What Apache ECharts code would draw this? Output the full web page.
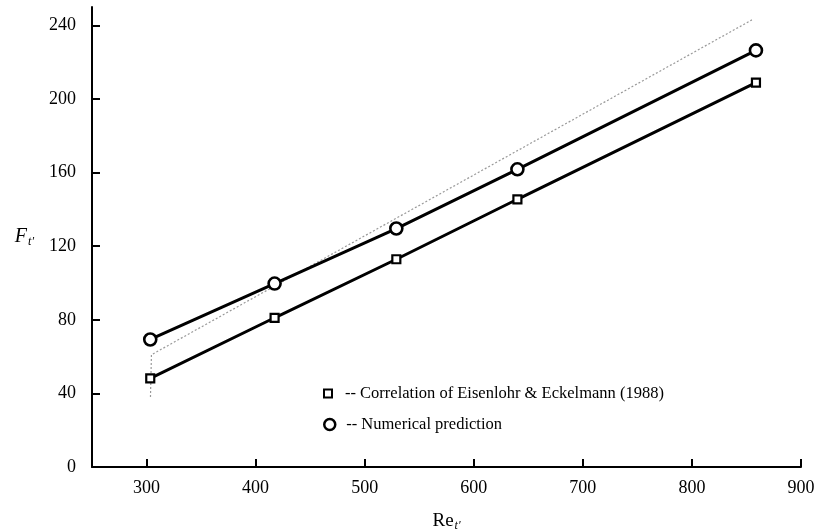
<!DOCTYPE html>
<html>
<head>
<meta charset="utf-8">
<script src="https://cdn.jsdelivr.net/npm/echarts@6/dist/echarts.min.js"></script>
<style>html,body{margin:0;padding:0;background:#fff;}#c{width:817px;height:531px;}</style>
</head>
<body>
<div id="c"></div>
<script>
const reValues = [303.4, 417.4, 529, 640, 858.7];
const correlationF = [48.2, 81.1, 112.9, 145.5, 208.9];
const numericalF = [69.3, 99.7, 129.6, 161.8, 226.4];
const faintX = [303.6, 304.5, 855];
const faintY = [38, 61, 243];
const xTicks = [300, 400, 500, 600, 700, 800, 900];
const yTicks = [0, 40, 80, 120, 160, 200, 240];
const nameCorr = '-- Correlation of Eisenlohr & Eckelmann (1988)';
const nameNum = '-- Numerical prediction';

const serif = '"Liberation Serif", "DejaVu Serif", serif';
const chart = echarts.init(document.getElementById('c'));
const zip = (a, b) => a.map((v, i) => [v, b[i]]);

chart.setOption({
  animation: false,
  backgroundColor: '#fff',
  grid: {left: 92, right: 16, top: 7, bottom: 64, outerBoundsMode: 'none', containLabel: false},
  xAxis: {
    type: 'value', min: 250, max: 900,
    name: '{f|Re}{s|t′}',
    nameLocation: 'middle', nameGap: 44,
    nameTextStyle: {rich: {
      f: {fontFamily: serif, fontSize: 19, color: '#000'},
      s: {fontFamily: serif, fontSize: 12, fontStyle: 'italic', color: '#000', padding: [9, 0, 0, 1]}
    }},
    splitLine: {show: false},
    axisLine: {lineStyle: {color: '#000', width: 2}},
    axisTick: {inside: true, length: 8, lineStyle: {color: '#000', width: 2}, customValues: xTicks},
    axisLabel: {customValues: xTicks, color: '#000', fontFamily: serif, fontSize: 18, margin: 12}
  },
  yAxis: {
    type: 'value', min: 0, max: 250,
    name: '{f|F}{s|t′}',
    nameLocation: 'middle', nameGap: 58, nameRotate: 0,
    nameTextStyle: {rich: {
      f: {fontFamily: serif, fontSize: 20, fontStyle: 'italic', color: '#000'},
      s: {fontFamily: serif, fontSize: 12, fontStyle: 'italic', color: '#000', padding: [9, 0, 0, 1]}
    }},
    splitLine: {show: false},
    axisLine: {lineStyle: {color: '#000', width: 2}},
    axisTick: {inside: true, length: 8, lineStyle: {color: '#000', width: 2}, customValues: yTicks},
    axisLabel: {customValues: yTicks, color: '#000', fontFamily: serif, fontSize: 18, margin: 16}
  },
  legend: [
    {
      left: 318, top: 380, orient: 'vertical',
      itemWidth: 8, itemHeight: 8, itemGap: 8,
      textStyle: {fontFamily: serif, fontSize: 16.5, color: '#000', padding: [0, 0, 0, 8]},
      data: [{name: nameCorr, icon: 'rect', itemStyle: {color: '#fff', borderColor: '#000', borderWidth: 2}}]
    },
    {
      left: 318, top: 411, orient: 'vertical',
      itemWidth: 11, itemHeight: 11, itemGap: 8,
      textStyle: {fontFamily: serif, fontSize: 16.5, color: '#000', padding: [0, 0, 0, 6]},
      data: [{name: nameNum, icon: 'circle', itemStyle: {color: '#fff', borderColor: '#000', borderWidth: 2.5}}]
    }
  ],
  series: [
    {
      name: 'faint', type: 'line', data: zip(faintX, faintY), symbol: 'none', silent: true,
      lineStyle: {color: '#999', width: 1.2, type: [2, 2]}, z: 1
    },
    {
      name: nameCorr, type: 'line', data: zip(reValues, correlationF),
      symbol: 'rect', symbolSize: 8,
      itemStyle: {color: '#fff', borderColor: '#000', borderWidth: 2.2},
      lineStyle: {color: '#000', width: 3}, z: 3
    },
    {
      name: nameNum, type: 'line', data: zip(reValues, numericalF),
      symbol: 'circle', symbolSize: 12,
      itemStyle: {color: '#fff', borderColor: '#000', borderWidth: 2.6},
      lineStyle: {color: '#000', width: 3}, z: 3
    }
  ]
});
</script>
</body>
</html>
